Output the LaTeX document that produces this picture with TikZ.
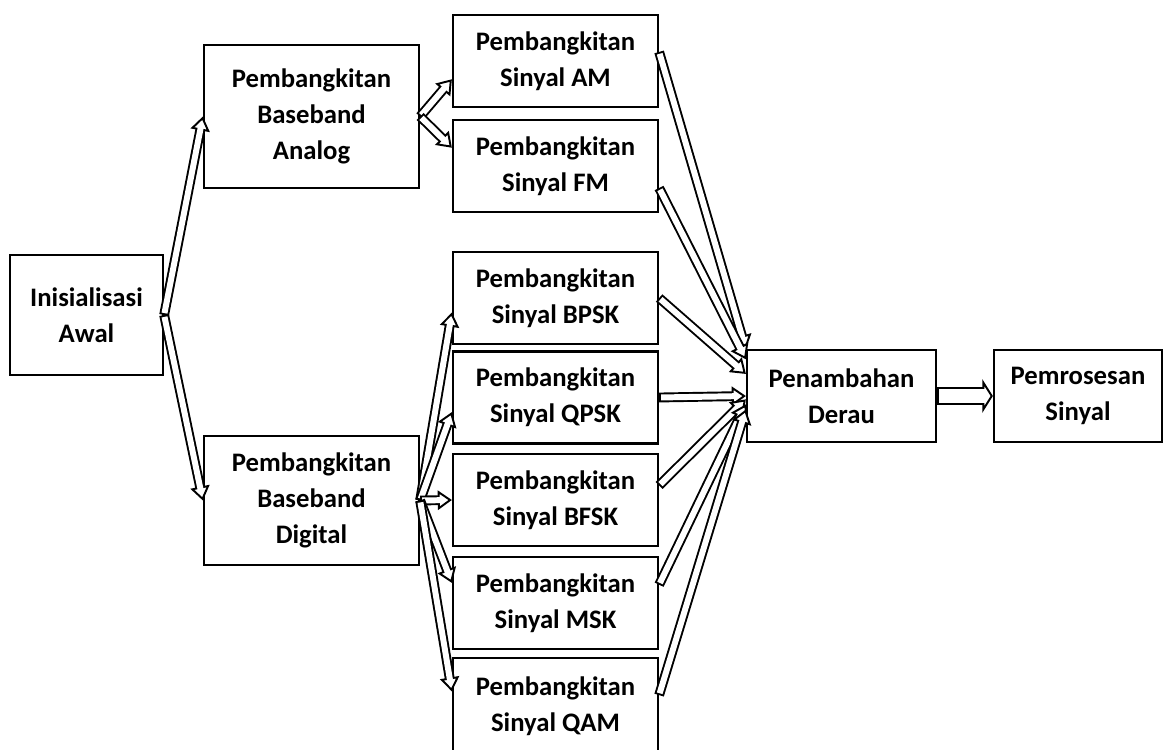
\documentclass[tikz,border=0pt]{standalone}
\usepackage{fontspec}
\setmainfont{Carlito}
\usepackage{tikz}
\usetikzlibrary{arrows.meta}
\tikzset{
  blok/.style={draw, line width=1.3pt, font=\fontsize{15.2}{20.5}\selectfont\bfseries,
               align=center, inner sep=0pt},
  sinyal/.style={blok, minimum width=4.1cm, minimum height=1.84cm},
  hollow/.style={line width=5.6pt, -{Triangle[open, fill=white, length=8pt, width=11pt, line width=1.1pt]},
                 postaction={draw=white, line width=3.4pt, -, shorten >=6.5pt, shorten <=1.1pt}},
  bigarrow/.style={line width=10pt, -{Triangle[open, fill=white, length=6pt, width=19pt, line width=1.1pt]},
                   postaction={draw=white, line width=7.8pt, -, shorten >=4.5pt, shorten <=1.1pt}}
}
\begin{document}
\begin{tikzpicture}[x=0.02cm, y=-0.02cm]
  \useasboundingbox (0,0) rectangle (1164,750);

  % Awal
  \node[blok, minimum width=3.06cm, minimum height=2.4cm] (init) at (86.5,315)
        {Inisialisasi\\Awal};

  % Baseband
  \node[blok, minimum width=4.3cm, minimum height=2.86cm] (analog) at (311.5,116.5)
        {Pembangkitan\\Baseband\\Analog};
  \node[blok, minimum width=4.3cm, minimum height=2.58cm] (digital) at (311.5,500.5)
        {Pembangkitan\\Baseband\\Digital};

  % Sinyal analog
  \node[sinyal] (am) at (555.5,61)  {Pembangkitan\\Sinyal AM};
  \node[sinyal] (fm) at (555.5,166) {Pembangkitan\\Sinyal FM};

  % Sinyal digital
  \node[sinyal] (bpsk) at (555.5,298)   {Pembangkitan\\Sinyal BPSK};
  \node[sinyal] (qpsk) at (555.5,397.5) {Pembangkitan\\Sinyal QPSK};
  \node[sinyal] (bfsk) at (555.5,500)   {Pembangkitan\\Sinyal BFSK};
  \node[sinyal] (msk)  at (555.5,603)   {Pembangkitan\\Sinyal MSK};
  \node[sinyal, minimum height=1.92cm] (qam) at (555.5,706) {Pembangkitan\\Sinyal QAM};

  % Derau + proses
  \node[blok, minimum width=3.78cm, minimum height=1.84cm] (derau) at (841.5,396)
        {Penambahan\\Derau};
  \node[blok, minimum width=3.36cm, minimum height=1.84cm] (proses) at (1078,396)
        {Pemrosesan\\Sinyal};

  % panah
  \draw[hollow] (init.east) -- (analog.west);
  \draw[hollow] (init.east) -- (digital.west);
  \draw[hollow] (analog.east) -- (am.190);
  \draw[hollow] (analog.east) -- (fm.170);
  \foreach \n/\a in {bpsk/188,qpsk/188,bfsk/180,msk/169,qam/172}{
    \draw[hollow] (digital.east) -- (\n.\a);
  }
  \foreach \n/\s/\t in {am/5/154,fm/-12/159,bpsk/0/167,qpsk/0/180,bfsk/8/182,msk/10/185,qam/6/188}{
    \draw[hollow] (\n.\s) -- (derau.\t);
  }
  \draw[bigarrow] (derau.east) -- (proses.west);
\end{tikzpicture}
\end{document}
